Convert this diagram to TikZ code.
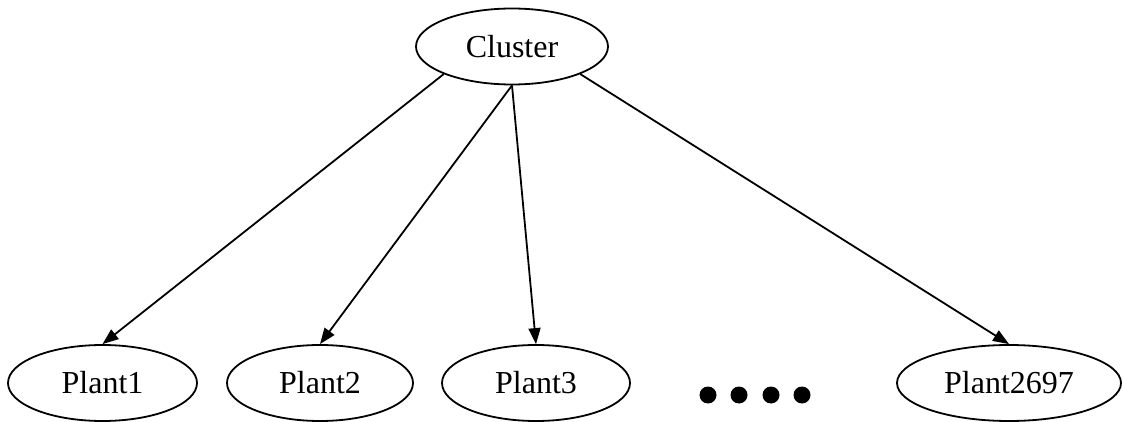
\documentclass[tikz,border=0pt]{standalone}
\usepackage{fontspec}
\setmainfont{Liberation Serif}
\usetikzlibrary{shapes.geometric,arrows.meta}
\tikzset{
  oval/.style={draw, ellipse, line width=1.8pt, inner sep=0pt,
    minimum height=76pt, font=\fontsize{32}{37}\selectfont},
  edge/.style={line width=1.8pt, -{Triangle[length=16pt,width=12pt]}},
  dot/.style={fill=black}
}
\begin{document}
\begin{tikzpicture}[x=1pt,y=-1pt]
\useasboundingbox (0,0) rectangle (1122,422);
% root
\node[oval, minimum width=192pt] (cluster) at (512,46.5) {Cluster};
% leaves
\node[oval, minimum width=189pt] (p1) at (102.5,383) {Plant1};
\node[oval, minimum width=186pt] (p2) at (320,383) {Plant2};
\node[oval, minimum width=188pt] (p3) at (536,383) {Plant3};
\node[oval, minimum width=224pt] (p4) at (1009,383) {Plant2697};
% ellipsis between the leaves
\foreach \x in {708,739,771,802}
  \fill[dot] (\x,395) circle (8.5pt);
% edges
\draw[edge] (cluster.202) -- (p1.north);
\draw[edge] (cluster.south) -- (p2.north);
\draw[edge] (cluster.south) -- (p3.north);
\draw[edge] (cluster.338) -- (p4.north);
\end{tikzpicture}
\end{document}
